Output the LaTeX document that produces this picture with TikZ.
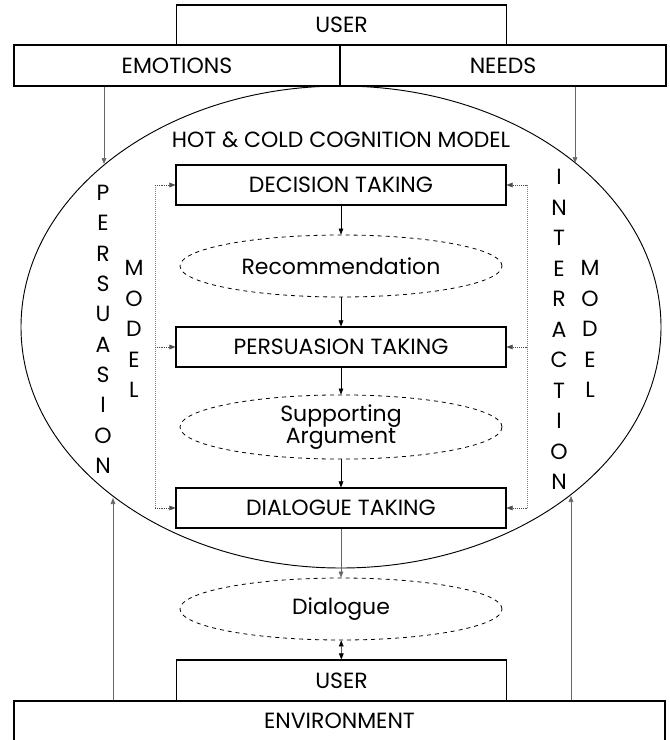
\documentclass[tikz,border=0pt]{standalone}
\usepackage{fontspec}
\setmainfont{Poppins}
\usetikzlibrary{shapes.geometric,arrows.meta}

\begin{document}
\begin{tikzpicture}[x=0.75pt,y=-0.75pt,
    every node/.style={font=\fontsize{16.5}{17}\selectfont},
    box/.style={draw,line width=0.8pt,minimum width=247.5pt,minimum height=30pt,inner sep=0pt},
    wide/.style={draw,line width=0.8pt,minimum width=244.5pt,minimum height=30.75pt,inner sep=0pt},
    oval/.style={draw,dashed,ellipse,line width=0.6pt,minimum width=241.5pt,minimum height=46.5pt,inner sep=0pt,align=center},
    tip/.style={-{Triangle[length=4.5pt,width=3.5pt]},line width=0.4pt},
    dotline/.style={densely dotted,gray,line width=0.5pt}]
  \useasboundingbox (0,0) rectangle (670,740);

  % user side
  \node[box] (usertop) at (341.5,25) {USER};
  \node[wide] (emo) at (177,65.5) {EMOTIONS};
  \node[wide] (needs) at (503,65.5) {NEEDS};

  % cognition model
  \node[draw,ellipse,line width=0.7pt,minimum width=480pt,minimum height=361.5pt,inner sep=0pt] (cog) at (341,327) {};
  \node (hot) at (341,140) {HOT \& COLD COGNITION MODEL};

  \node[box] (dec) at (341,185) {DECISION TAKING};
  \node[oval] (rec) at (341,266) {Recommendation};
  \node[box] (per) at (341,347) {PERSUASION TAKING};
  \node[oval] (sup) at (341,427) {Supporting\\Argument};
  \node[box] (dia) at (341,508) {DIALOGUE TAKING};

  \draw[tip] (dec) -- (rec);
  \draw[tip] (rec) -- (per);
  \draw[tip] (per) -- (sup);
  \draw[tip] (sup) -- (dia);

  % side models
  \foreach \l [count=\i] in {P,E,R,S,U,A,S,I,O,N}
      \node (pm\i) at (103,193+30.3*\i-30.3) {\l};
  \foreach \l [count=\i] in {M,O,D,E,L}
      \node (lm\i) at (134,268+30.5*\i-30.5) {\l};
  \foreach \l [count=\i] in {I,N,T,E,R,A,C,T,I,O,N}
      \node (im\i) at (559,177+30.5*\i-30.5) {\l};
  \foreach \l [count=\i] in {M,O,D,E,L}
      \node (rm\i) at (590,268+30.5*\i-30.5) {\l};

  % dotted feeds
  \coordinate (lt) at (155,185);
  \coordinate (lb) at (155,508);
  \coordinate (rt) at (527,185);
  \coordinate (rb) at (527,508);
  \draw[dotline] (lt) -- (lb);
  \draw[dotline] (rt) -- (rb);
  \foreach \b in {dec,per,dia}{
      \draw[dotline,tip,black!70] (\b.west -| lt) -- (\b.west);
      \draw[dotline,tip,black!70] (\b.east -| rt) -- (\b.east);
  }

  % output
  \node[oval] (dlg) at (341,609) {Dialogue};
  \node[box,minimum height=30.75pt] (userbot) at (341.5,680.5) {USER};
  \node[draw,line width=0.8pt,minimum width=488.25pt,minimum height=30pt,inner sep=0pt] (env) at (339.5,721) {ENVIRONMENT};

  \draw[tip,gray!80!black] (dia) -- (dlg);
  \draw[line width=0.4pt,{Triangle[length=4.5pt,width=3.5pt]}-{Triangle[length=4.5pt,width=3.5pt]}] (dlg) -- (userbot);

  % in and out of the model
  \coordinate (ein) at (104,164);
  \coordinate (nin) at (575,163);
  \coordinate (lup) at (113,498);
  \coordinate (rup) at (571,496);
  \draw[tip,gray!80!black] (emo.south -| ein) -- (ein);
  \draw[tip,gray!80!black] (needs.south -| nin) -- (nin);
  \draw[tip,gray!80!black] (env.north -| lup) -- (lup);
  \draw[tip,gray!80!black] (env.north -| rup) -- (rup);
\end{tikzpicture}
\end{document}
